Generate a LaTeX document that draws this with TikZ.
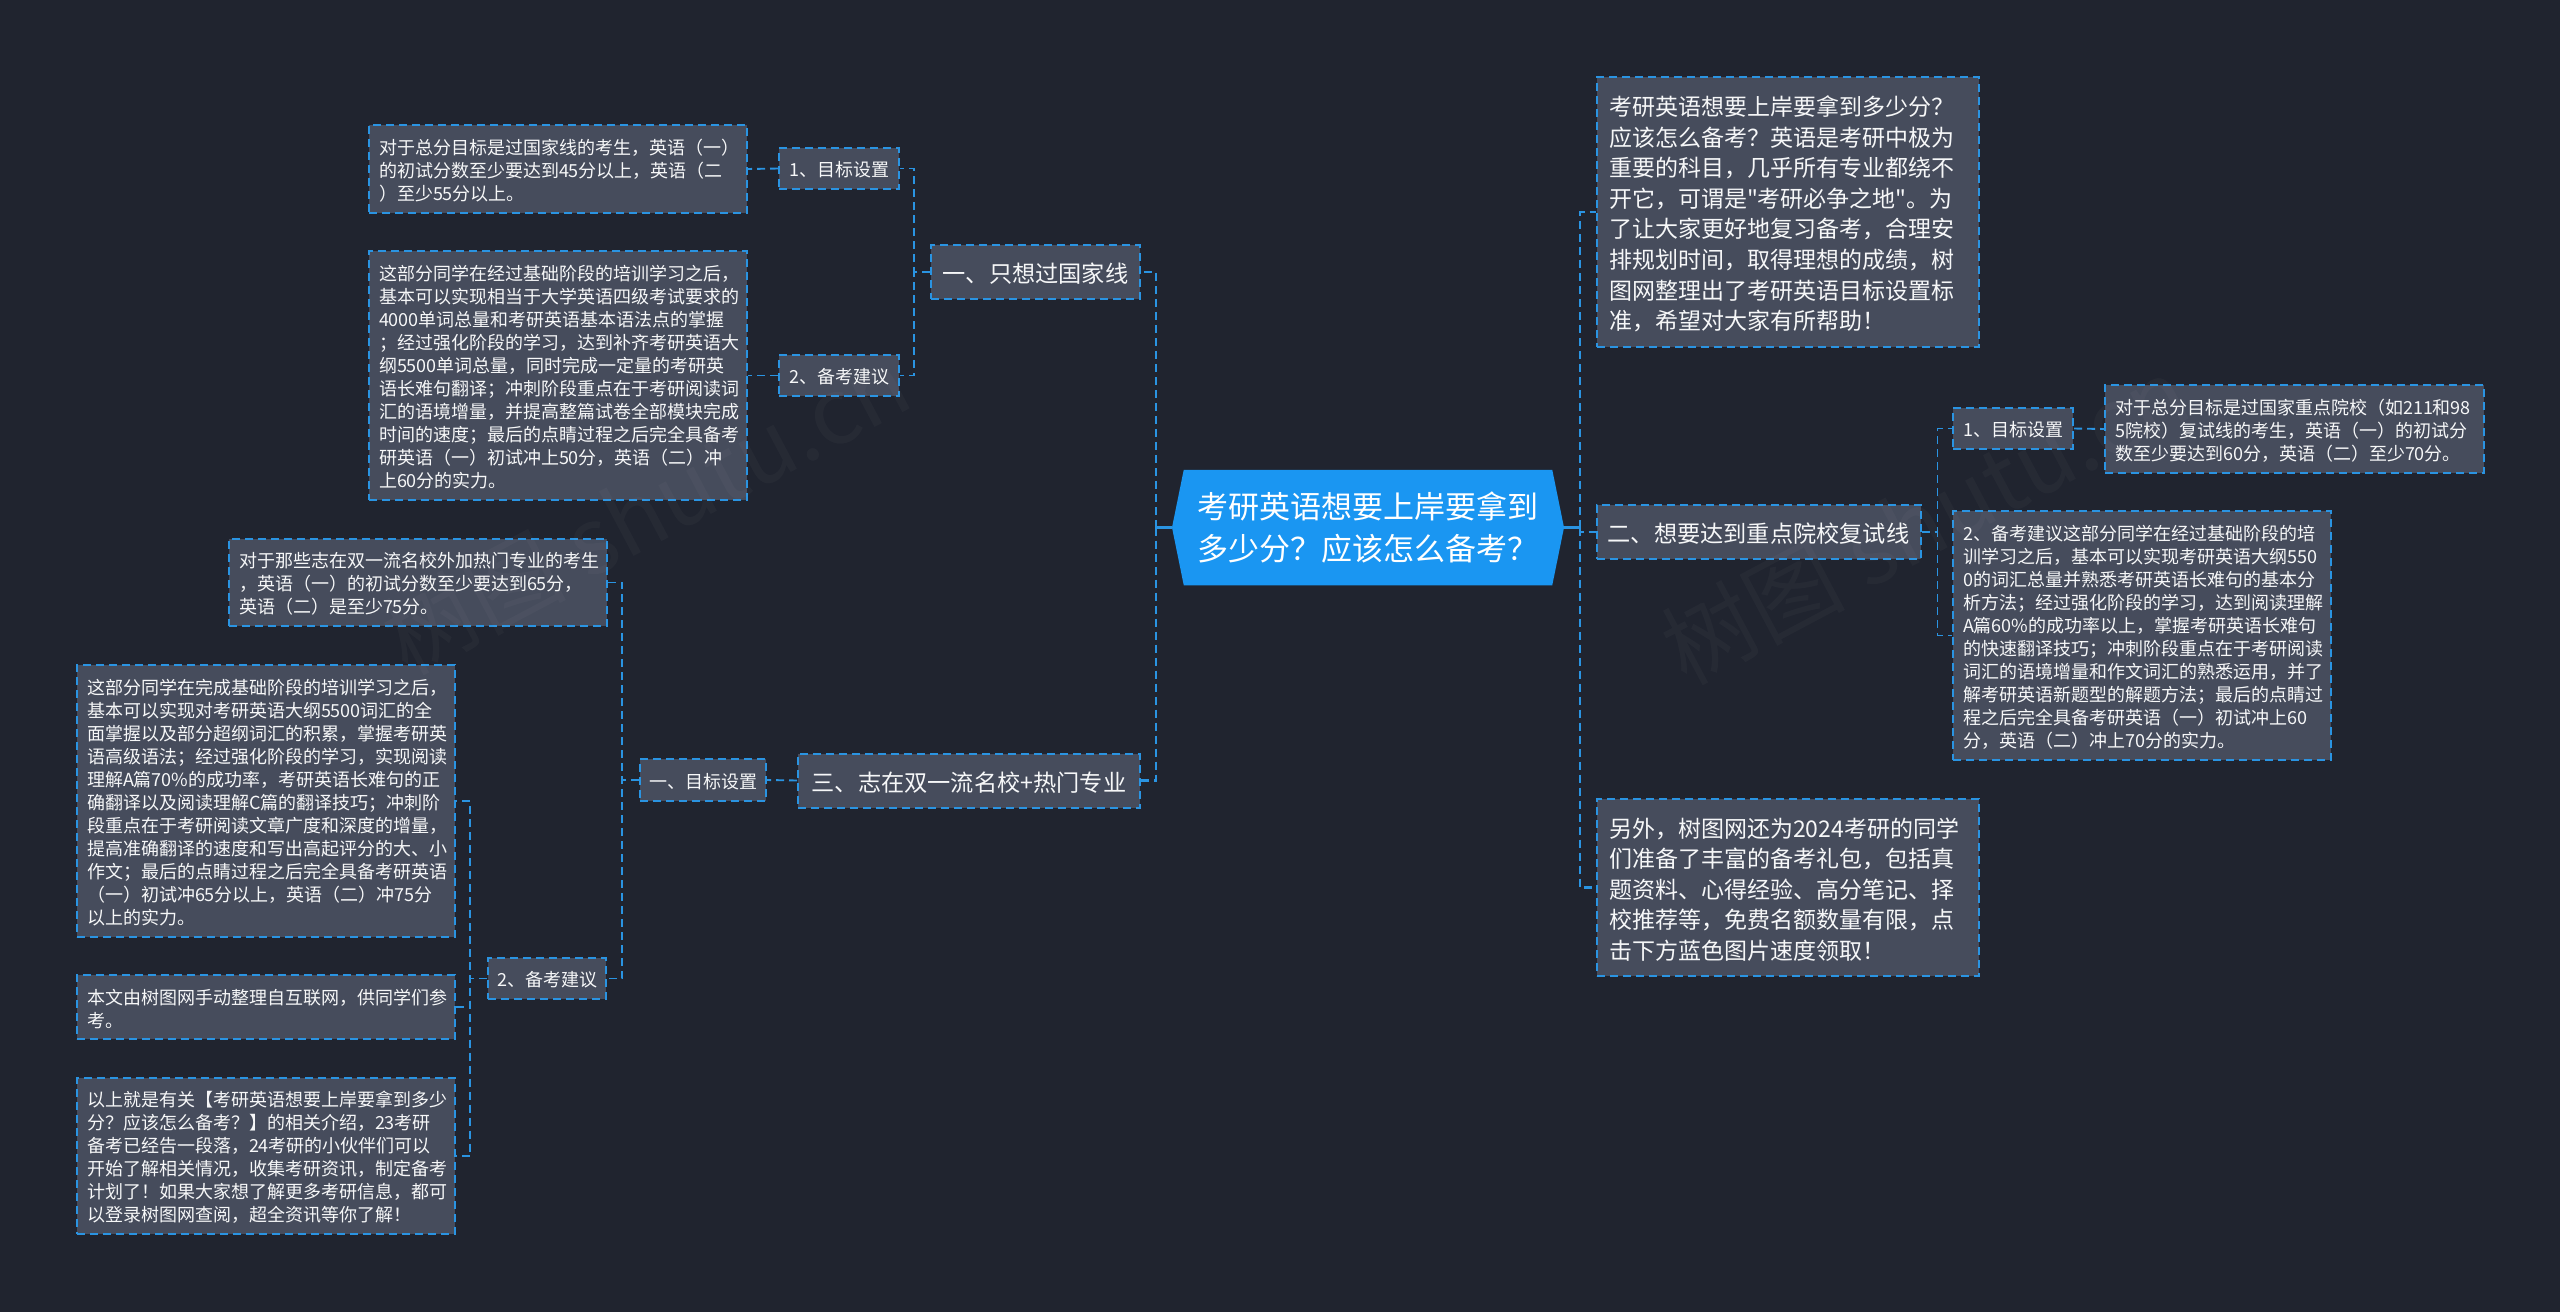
\documentclass[tikz,border=0pt]{standalone}
\usepackage{fontspec}
\newfontfamily\cjkfont{Noto Sans CJK SC}
\usetikzlibrary{shapes.symbols}
\definecolor{pagebg}{HTML}{20242F}
\definecolor{boxfill}{HTML}{464C5C}
\definecolor{linkblue}{HTML}{2A94E2}
\definecolor{rootblue}{HTML}{1A96F2}
\definecolor{inktext}{HTML}{F6F7F8}
\tikzset{
  link/.style={draw=linkblue,line width=1.9pt,dash pattern=on 8pt off 5pt},
  mainlink/.style={link,line width=2.8pt},
  rootstub/.style={draw=linkblue,line width=3pt},
  basebox/.style={draw=linkblue,fill=boxfill,line width=2pt,dash pattern=on 8pt off 5pt,text=inktext,inner sep=0pt,execute at begin node={\rule{0pt}{1.02em}}},
  notebox/.style 2 args={basebox,font=\cjkfont\fontsize{18}{23}\selectfont,align=left,minimum width=#1 pt,text width=#1 pt-20pt,minimum height=#2 pt},
  bigbox/.style 2 args={basebox,font=\cjkfont\fontsize{23}{30.6}\selectfont,align=left,minimum width=#1 pt,text width=#1 pt-24pt,minimum height=#2 pt},
  tagbox/.style 2 args={basebox,font=\cjkfont\fontsize{18}{23}\selectfont,minimum width=#1 pt,minimum height=#2 pt},
  branchbox/.style 2 args={basebox,font=\cjkfont\fontsize{23.2}{30}\selectfont,minimum width=#1 pt,minimum height=#2 pt},
  rootbox/.style={signal,signal to=west and east,signal pointer angle=157,fill=rootblue,text=white,inner sep=0pt,align=left,font=\cjkfont\fontsize{31}{41.7}\selectfont,minimum width=392pt,minimum height=115.5pt},
  markbox/.style={rotate=28,text=white,text opacity=.028,font=\cjkfont\fontsize{92}{92}\selectfont}
}
\begin{document}
\begin{tikzpicture}[x=1pt,y=-1pt]
  \useasboundingbox (0,0) rectangle (2560,1312);
  \fill[pagebg] (0,0) rectangle (2560,1312);

  \node[rootbox] (root) at (1368,527.5) {考研英语想要上岸要拿到\\多少分？应该怎么备考？};

  \node[branchbox={209}{54}] (nation) at (1035.5,272) {一、只想过国家线};
  \node[tagbox={120}{41}] (natgoal) at (839,168.5) {1、目标设置};
  \node[tagbox={120}{41}] (natplan) at (839,375.5) {2、备考建议};
  \node[notebox={378}{88}] (natgoaltxt) at (558,169) {对于总分目标是过国家线的考生，英语（一）\\的初试分数至少要达到45分以上，英语（二\\）至少55分以上。};
  \node[notebox={378}{249}] (natplantxt) at (558,375.5) {这部分同学在经过基础阶段的培训学习之后，\\基本可以实现相当于大学英语四级考试要求的\\4000单词总量和考研英语基本语法点的掌握\\；经过强化阶段的学习，达到补齐考研英语大\\纲5500单词总量，同时完成一定量的考研英\\语长难句翻译；冲刺阶段重点在于考研阅读词\\汇的语境增量，并提高整篇试卷全部模块完成\\时间的速度；最后的点睛过程之后完全具备考\\研英语（一）初试冲上50分，英语（二）冲\\上60分的实力。};

  \node[branchbox={342}{54}] (elite) at (969,780.5) {三、志在双一流名校+热门专业};
  \node[tagbox={126}{42}] (elitegoal) at (703,780) {一、目标设置};
  \node[tagbox={118}{41}] (eliteplan) at (547,978.5) {2、备考建议};
  \node[notebox={378}{87}] (elitegoaltxt) at (418,582.5) {对于那些志在双一流名校外加热门专业的考生\\，英语（一）的初试分数至少要达到65分，\\英语（二）是至少75分。};
  \node[notebox={378}{272}] (eliteplantxt) at (266,801) {这部分同学在完成基础阶段的培训学习之后，\\基本可以实现对考研英语大纲5500词汇的全\\面掌握以及部分超纲词汇的积累，掌握考研英\\语高级语法；经过强化阶段的学习，实现阅读\\理解A篇70\%的成功率，考研英语长难句的正\\确翻译以及阅读理解C篇的翻译技巧；冲刺阶\\段重点在于考研阅读文章广度和深度的增量，\\提高准确翻译的速度和写出高起评分的大、小\\作文；最后的点睛过程之后完全具备考研英语\\（一）初试冲65分以上，英语（二）冲75分\\以上的实力。};
  \node[notebox={378}{64}] (sourcetxt) at (266,1007) {本文由树图网手动整理自互联网，供同学们参\\考。};
  \node[notebox={378}{156}] (closetxt) at (266,1156) {以上就是有关【考研英语想要上岸要拿到多少\\分？应该怎么备考？】的相关介绍，23考研\\备考已经告一段落，24考研的小伙伴们可以\\开始了解相关情况，收集考研资讯，制定备考\\计划了！如果大家想了解更多考研信息，都可\\以登录树图网查阅，超全资讯等你了解！};

  \node[bigbox={382}{270}] (intro) at (1788,212) {考研英语想要上岸要拿到多少分？\\应该怎么备考？英语是考研中极为\\重要的科目，几乎所有专业都绕不\\开它，可谓是"考研必争之地"。为\\了让大家更好地复习备考，合理安\\排规划时间，取得理想的成绩，树\\图网整理出了考研英语目标设置标\\准，希望对大家有所帮助！};
  \node[branchbox={324}{54}] (retest) at (1758.5,532) {二、想要达到重点院校复试线};
  \node[bigbox={382}{177}] (gift) at (1788,887.5) {另外，树图网还为2024考研的同学\\们准备了丰富的备考礼包，包括真\\题资料、心得经验、高分笔记、择\\校推荐等，免费名额数量有限，点\\击下方蓝色图片速度领取！};
  \node[tagbox={120}{41}] (retgoal) at (2013,428.5) {1、目标设置};
  \node[notebox={379}{88}] (retgoaltxt) at (2294.5,429) {对于总分目标是过国家重点院校（如211和98\\5院校）复试线的考生，英语（一）的初试分\\数至少要达到60分，英语（二）至少70分。};
  \node[notebox={378}{249}] (retplantxt) at (2142,635.5) {2、备考建议这部分同学在经过基础阶段的培\\训学习之后，基本可以实现考研英语大纲550\\0的词汇总量并熟悉考研英语长难句的基本分\\析方法；经过强化阶段的学习，达到阅读理解\\A篇60\%的成功率以上，掌握考研英语长难句\\的快速翻译技巧；冲刺阶段重点在于考研阅读\\词汇的语境增量和作文词汇的熟悉运用，并了\\解考研英语新题型的解题方法；最后的点睛过\\程之后完全具备考研英语（一）初试冲上60\\分，英语（二）冲上70分的实力。};

  \coordinate (lspine) at (1156,527.5);
  \coordinate (rspine) at (1580,527.5);
  \draw[rootstub] (root.west) -- (lspine);
  \draw[rootstub] (root.east) -- (rspine);
  \draw[mainlink] (lspine) |- (nation.east);
  \draw[mainlink] (lspine) |- (elite.east);
  \draw[mainlink] (rspine) |- (intro.west);
  \draw[mainlink] (rspine) |- (retest.west);
  \draw[mainlink] (rspine) |- (gift.west);

  \draw[link] (nation.west) -- ++(-16,0) |- (natgoal.east);
  \draw[link] (nation.west) -- ++(-16,0) |- (natplan.east);
  \draw[link] (natgoal.west) -- (natgoaltxt.east);
  \draw[link] (natplan.west) -- (natplantxt.east);

  \draw[link] (elite.west) -- (elitegoal.east);
  \draw[link] (elitegoal.west) -- ++(-17,0) |- (elitegoaltxt.east);
  \draw[link] (elitegoal.west) -- ++(-17,0) |- (eliteplan.east);
  \draw[link] (eliteplan.west) -- ++(-17,0) |- (eliteplantxt.east);
  \draw[link] (eliteplan.west) -- ++(-17,0) |- (sourcetxt.east);
  \draw[link] (eliteplan.west) -- ++(-17,0) |- (closetxt.east);

  \draw[link] (retest.east) -- ++(16,0) |- (retgoal.west);
  \draw[link] (retest.east) -- ++(16,0) |- (retplantxt.west);
  \draw[link] (retgoal.east) -- (retgoaltxt.west);

  \node[markbox] (markleft) at (646,510) {树图 shutu.cn};
  \node[markbox] (markright) at (1925,520) {树图 shutu.cn};
\end{tikzpicture}
\end{document}
